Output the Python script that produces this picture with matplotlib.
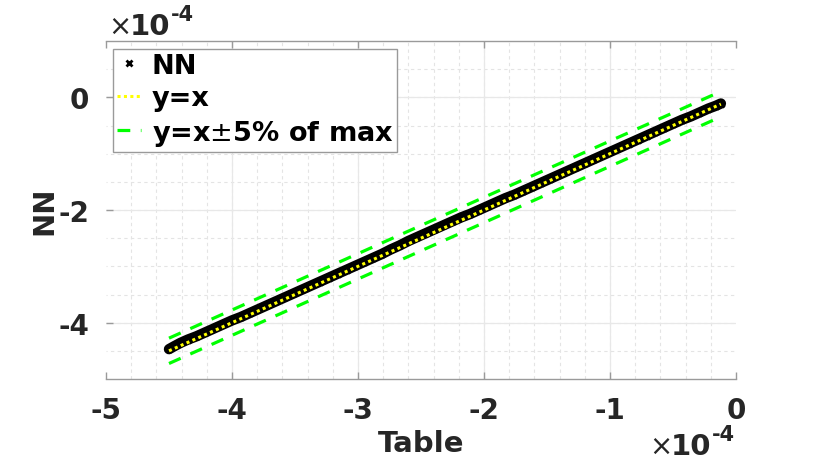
import matplotlib
matplotlib.use("Agg")
import matplotlib.pyplot as plt
from matplotlib.ticker import MultipleLocator

# values in units of 1e-4
table = [-4.50, -4.46, -4.41, -4.35, -4.28, -4.21, -4.14, -4.07, -4.00, -3.93,
         -3.86, -3.79, -3.72, -3.65, -3.58, -3.51, -3.44, -3.37, -3.30, -3.23,
         -3.16, -3.09, -3.02, -2.95, -2.88, -2.81, -2.74, -2.67, -2.60, -2.53,
         -2.46, -2.39, -2.32, -2.25, -2.18, -2.11, -2.04, -1.97, -1.90, -1.83,
         -1.76, -1.69, -1.62, -1.55, -1.48, -1.41, -1.34, -1.27, -1.20, -1.13,
         -1.06, -0.99, -0.92, -0.85, -0.78, -0.71, -0.64, -0.57, -0.50, -0.43,
         -0.36, -0.29, -0.22, -0.16, -0.12]
nn = [-4.47, -4.42, -4.36, -4.30, -4.24, -4.17, -4.10, -4.03, -3.96, -3.90,
      -3.83, -3.76, -3.69, -3.62, -3.55, -3.48, -3.41, -3.34, -3.27, -3.20,
      -3.13, -3.06, -2.99, -2.92, -2.85, -2.78, -2.70, -2.63, -2.55, -2.48,
      -2.41, -2.34, -2.27, -2.20, -2.13, -2.07, -2.00, -1.93, -1.86, -1.79,
      -1.73, -1.66, -1.59, -1.52, -1.45, -1.38, -1.31, -1.24, -1.17, -1.10,
      -1.03, -0.96, -0.89, -0.82, -0.75, -0.68, -0.61, -0.54, -0.47, -0.40,
      -0.34, -0.27, -0.20, -0.15, -0.11]
band_frac = 0.05

xticks = [-5, -4, -3, -2, -1, 0]
yticks = [0, -2, -4]

plt.rcParams["axes.unicode_minus"] = False
plt.rcParams["font.family"] = "DejaVu Sans"

fig = plt.figure(figsize=(8.14, 4.64), dpi=100)
ax = fig.add_axes([106 / 814, 84 / 464, 630 / 814, 338 / 464])
ax.set_xlim(-5, 0)
ax.set_ylim(-5, 1)

# grid drawn by hand so the box edges stay clear (like matlab)
minor_x = MultipleLocator(0.2).tick_values(-5, 0)
minor_y = MultipleLocator(0.5).tick_values(-5, 1)
for v in minor_x:
    if -4.99 < v < -0.01:
        ax.axvline(v, color="#e4e4e4", lw=0.8, ls=(0, (3, 3)), zorder=0)
for v in minor_y:
    if -4.99 < v < 0.99:
        ax.axhline(v, color="#e4e4e4", lw=0.8, ls=(2, (3, 3)), zorder=0)
for v in xticks[1:-1]:
    ax.axvline(v, color="#e8e8e8", lw=0.9, zorder=0.5)
for v in yticks:
    ax.axhline(v, color="#e8e8e8", lw=0.9, zorder=0.5)

# line ends
x0, x1 = table[0], table[-1]
off = band_frac * max(abs(v) for v in table)

ax.plot(table, nn, color="black", lw=7.5, solid_capstyle="round", zorder=3)
ax.plot(table, nn, ls="none", marker="x", ms=5, mew=2, color="black",
        label="NN", zorder=3)
ax.plot([x0, x1], [x0, x1], color="#ffff00", lw=2.2, ls=(0, (1, 1.1)),
        label="y=x", zorder=4)
ax.plot([x0, x1], [x0 + off, x1 + off], color="#00ff00", lw=2.3,
        ls=(0, (4, 3.3)), label="y=x$\\pm$5% of max", zorder=4)
ax.plot([x0, x1], [x0 - off, x1 - off], color="#00ff00", lw=2.3,
        ls=(0, (4, 3.3)), zorder=4)

ax.set_xticks(xticks)
ax.set_yticks(yticks)
ax.set_xticklabels([str(t) for t in xticks])
ax.set_yticklabels([str(t) for t in yticks])

for side in ["left", "right"]:
    ax.spines[side].set_visible(False)
for side in ["top", "bottom"]:
    ax.spines[side].set_color("#9a9a9a")
    ax.spines[side].set_linewidth(1)

ax.tick_params(which="major", direction="in", length=5, width=1,
               color="#9a9a9a", top=True, left=True, right=False,
               labelsize=20, labelcolor="#262626", pad=12)
for lab in ax.get_xticklabels() + ax.get_yticklabels():
    lab.set_fontweight("bold")

ax.set_xlabel("Table", fontsize=21, fontweight="bold", color="#262626",
              labelpad=4)
ax.set_ylabel("NN", fontsize=21, fontweight="bold", color="#262626",
              labelpad=0)

leg = ax.legend(loc="upper left", bbox_to_anchor=(0.011, 0.976),
                prop={"size": 19.5, "weight": "bold"}, handlelength=0.9,
                handletextpad=0.4, borderpad=0.14, labelspacing=0.24,
                fancybox=False, framealpha=1, borderaxespad=0)
leg.get_frame().set_edgecolor("#9a9a9a")
leg.get_frame().set_linewidth(1)

# exponent labels
def exponent(xpx, ypx):
    fig.text(xpx / 814, 1 - ypx / 464, "\u00d7", fontsize=20, color="#262626",
             va="baseline", ha="left")
    fig.text((xpx + 22) / 814, 1 - ypx / 464, "10", fontsize=21,
             fontweight="bold", color="#262626", va="baseline", ha="left")
    fig.text((xpx + 63) / 814, 1 - (ypx - 14) / 464, "-4", fontsize=15,
             fontweight="bold", color="#262626", va="baseline", ha="left")

exponent(108, 35)
exponent(649, 455)

fig.savefig("out.png", dpi=100)
